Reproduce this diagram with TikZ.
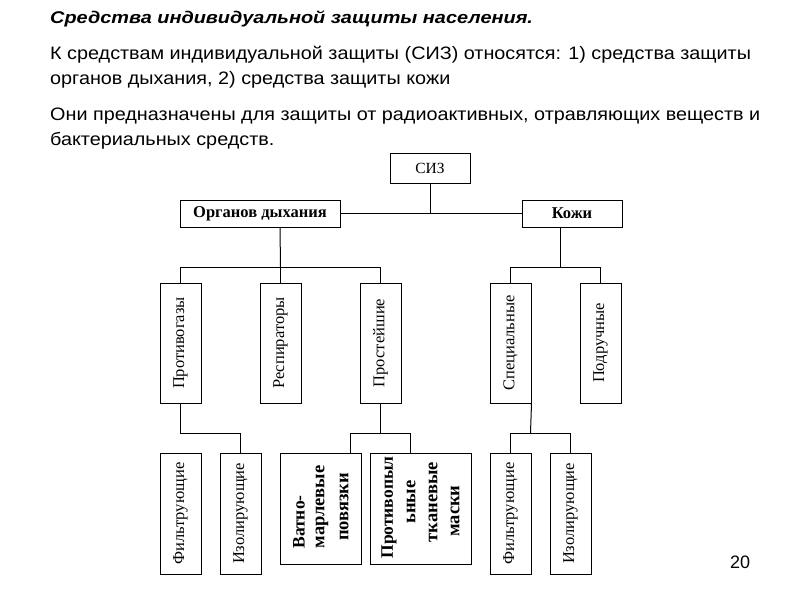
\documentclass[tikz,border=0pt]{standalone}
\usepackage{fontspec}
\setmainfont{Liberation Serif}
\newfontfamily\arialf{Liberation Sans}
\begin{document}
\begin{tikzpicture}[x=1pt,y=-1pt,
  box/.style={draw, line width=1pt, inner sep=0pt, font=\fontsize{16.5}{18}\selectfont},
  vbox/.style={box, minimum width=41pt, minimum height=120pt},
  lbox/.style={box, minimum width=41pt, minimum height=121pt},
  conn/.style={line width=1pt},
  big/.style={inner sep=0pt, rotate=90, font=\fontsize{17.5}{19}\bfseries\selectfont},
  small/.style={inner sep=0pt, rotate=90, font=\fontsize{18.5}{20}\bfseries\selectfont},
  txt/.style={anchor=base west, inner sep=0pt, font=\arialf\fontsize{18}{22}\selectfont}]
\useasboundingbox[fill=white] (0,0) rectangle (800,600);

% heading texts
\node[txt, font=\arialf\fontsize{17}{20}\bfseries\itshape\selectfont] (t0) at (50,23) {\scalebox{1.17}[1]{Средства индивидуальной защиты населения.}};
\node[txt] (t1) at (50,59) {\scalebox{1.1}[1]{К средствам индивидуальной защиты (СИЗ) относятся: 1) средства защиты}};
\node[txt] (t2) at (50,84) {\scalebox{1.1}[1]{органов дыхания, 2) средства защиты кожи}};
\node[txt] (t3) at (50,120) {\scalebox{1.1}[1]{Они предназначены для защиты от радиоактивных, отравляющих веществ и}};
\node[txt] (t4) at (50,145) {\scalebox{1.1}[1]{бактериальных средств.}};
\node[txt] (pn) at (730,568) {20};

% level 0 and 1
\node[box, minimum width=80pt, minimum height=30pt, font=\fontsize{15.5}{17}\selectfont] (siz) at (430,168) {СИЗ};
\node[box, minimum width=160pt, minimum height=27pt, font=\fontsize{16.5}{18}\bfseries\selectfont] (org) at (260,213.5) {Органов дыхания};
\node[box, minimum width=100pt, minimum height=27pt, font=\fontsize{16.5}{18}\bfseries\selectfont] (kozh) at (572,213.5) {Кожи};

% level 2
\node[vbox] (pg) at (180.5,343) {\rotatebox{90}{Противогазы}};
\node[vbox] (rs) at (280.5,343) {\rotatebox{90}{Респираторы}};
\node[vbox] (pr) at (380.5,343) {\rotatebox{90}{Простейшие}};
\node[vbox] (sp) at (510.5,343) {\rotatebox{90}{Специальные}};
\node[vbox] (pd) at (600.5,343) {\rotatebox{90}{Подручные}};

% level 3
\node[lbox] (f1) at (180.5,513.5) {\rotatebox{90}{Фильтрующие}};
\node[lbox] (i1) at (240.5,513.5) {\rotatebox{90}{Изолирующие}};
\node[lbox] (f2) at (510.5,513.5) {\rotatebox{90}{Фильтрующие}};
\node[lbox] (i2) at (570.5,513.5) {\rotatebox{90}{Изолирующие}};
\node[box, minimum width=81pt, minimum height=111pt] (vm) at (320.5,508.5) {};
\node[box, minimum width=101pt, minimum height=111pt] (pp) at (420.5,508.5) {};
\node[big] (vm1) at (299,522) {Ватно-};
\node[small] (vm2) at (322,507) {марлевые};
\node[small] (vm3) at (344,507) {повязки};
\node[big] (pp1) at (389,507.5) {Противопыл};
\node[small] (pp2) at (411,502) {ьные};
\node[small] (pp3) at (433,502) {тканевые};
\node[small] (pp4) at (455,511) {маски};

% bus points
\coordinate (b1) at (280.5,267);
\coordinate (b2) at (560,267);
\coordinate (b3) at (180.5,433);
\coordinate (b4) at (380.5,433);
\coordinate (b5) at (530.5,433);

% connectors
\draw[conn] (siz.south) -- (siz.south |- org.east);
\draw[conn] (org.east) -- (kozh.west);
\draw[conn] ([xshift=20pt]org.south) -- (b1);
\draw[conn] (pg.north) -- (pg.north |- b1) -- (pr.north |- b1) -- (pr.north);
\draw[conn] (rs.north) -- (b1);
\draw[conn] ([xshift=-12pt]kozh.south) -- (b2);
\draw[conn] (sp.north) -- (sp.north |- b2) -- (pd.north |- b2) -- (pd.north);
\draw[conn] (pg.south) -- (b3) -- (i1.north |- b3) -- (i1.north);
\draw[conn] (pr.south) -- (b4);
\draw[conn] ([xshift=29.5pt]vm.north) -- ([xshift=29.5pt]vm.north |- b4) -- ([xshift=-10.5pt]pp.north |- b4) -- ([xshift=-10.5pt]pp.north);
\draw[conn] (sp.south east) -- (b5);
\draw[conn] (f2.north) -- (f2.north |- b5) -- (i2.north |- b5) -- (i2.north);
\end{tikzpicture}
\end{document}
